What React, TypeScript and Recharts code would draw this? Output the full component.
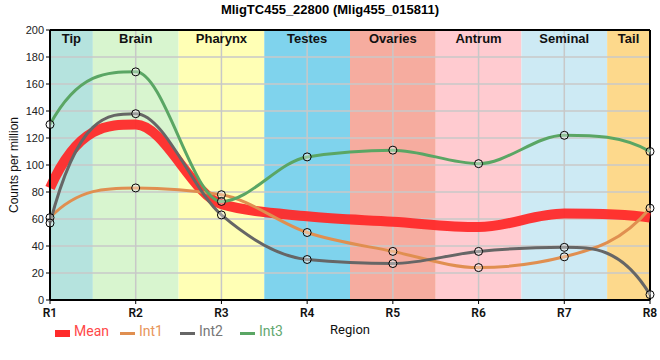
import React from "react";
import {
  ComposedChart,
  Line,
  XAxis,
  YAxis,
  ReferenceArea,
  ReferenceLine,
} from "recharts";

const categories = ["R1", "R2", "R3", "R4", "R5", "R6", "R7", "R8"];
const int1 = [61, 83, 78, 50, 36, 24, 32, 68];
const int2 = [57, 138, 63, 30, 27, 36, 39, 4];
const int3 = [130, 169, 73, 106, 111, 101, 122, 110];
const meanVals = [83, 130, 71, 62, 58, 54, 64, 61];
const yTicks = [0, 20, 40, 60, 80, 100, 120, 140, 160, 180, 200];
const xTicks = [1, 2, 3, 4, 5, 6, 7, 8];

const regions = ["Tip", "Brain", "Pharynx", "Testes", "Ovaries", "Antrum", "Seminal", "Tail"];
const regionStart = [1, 1.5, 2.5, 3.5, 4.5, 5.5, 6.5, 7.5];
const regionEnd = [1.5, 2.5, 3.5, 4.5, 5.5, 6.5, 7.5, 8];
const regionColors = ["#b5e3de", "#d8f5cf", "#ffffb5", "#7fd3ed", "#f6ac9f", "#ffcbd0", "#cdeaf4", "#fdd98c"];

const data = categories.map((c, i) => ({
  x: i + 1,
  name: c,
  mean: meanVals[i],
  int1: int1[i],
  int2: int2[i],
  int3: int3[i],
}));

const COLORS = { mean: "#ff2a2a", int1: "#e08f50", int2: "#666666", int3: "#5aa664" };

const dot = { r: 4, stroke: "#000", strokeWidth: 1, fill: "#ffffff", fillOpacity: 0.35 };

// Monotone cubic Hermite curve with steeper end tangents
function sign(v: number) {
  return v < 0 ? -1 : 1;
}
function smoothCurve(context: any) {
  let xs: number[] = [];
  let ys: number[] = [];
  return {
    areaStart() {},
    areaEnd() {},
    lineStart() {
      xs = [];
      ys = [];
    },
    point(x: number, y: number) {
      xs.push(+x);
      ys.push(+y);
    },
    lineEnd() {
      const n = xs.length;
      if (n === 0) return;
      context.moveTo(xs[0], ys[0]);
      if (n === 1) return;
      if (n === 2) {
        context.lineTo(xs[1], ys[1]);
        return;
      }
      const s: number[] = [];
      const h: number[] = [];
      for (let i = 0; i < n - 1; i++) {
        h.push(xs[i + 1] - xs[i]);
        s.push((ys[i + 1] - ys[i]) / (xs[i + 1] - xs[i]));
      }
      const m: number[] = new Array(n).fill(0);
      for (let i = 1; i < n - 1; i++) {
        const s0 = s[i - 1];
        const s1 = s[i];
        const p = (s0 * h[i] + s1 * h[i - 1]) / (h[i - 1] + h[i]);
        m[i] = (sign(s0) + sign(s1)) * Math.min(Math.abs(s0), Math.abs(s1), 0.5 * Math.abs(p)) || 0;
      }
      const endSlope = (sec: number, inner: number) => {
        let v = 3 * sec - 2 * inner;
        if (sign(v) !== sign(sec) || sec === 0) v = 0;
        if (Math.abs(v) > 3 * Math.abs(sec)) v = 3 * sec;
        return v;
      };
      m[0] = endSlope(s[0], m[1]);
      m[n - 1] = endSlope(s[n - 2], m[n - 2]);
      for (let i = 0; i < n - 1; i++) {
        const dx = h[i] / 3;
        context.bezierCurveTo(
          xs[i] + dx,
          ys[i] + dx * m[i],
          xs[i + 1] - dx,
          ys[i + 1] - dx * m[i + 1],
          xs[i + 1],
          ys[i + 1]
        );
      }
    },
  };
}

export default function App() {
  return (
    <div style={{ position: "absolute", left: 0, top: 0, width: 660, height: 360, fontFamily: "Roboto, sans-serif" }}>
      <div
        style={{
          position: "absolute",
          left: 0,
          top: 2,
          width: 660,
          textAlign: "center",
          fontFamily: "'Liberation Sans', Arial, sans-serif",
          fontWeight: "bold",
          fontSize: 13,
        }}
      >
        MligTC455_22800 (Mlig455_015811)
      </div>
      <ComposedChart width={660} height={360} data={data} margin={{ top: 30, right: 10, left: 0, bottom: 0 }}>
        {regions.map((r, i) => (
          <ReferenceArea
            key={r}
            x1={regionStart[i]}
            x2={regionEnd[i]}
            y1={0}
            y2={200}
            fill={regionColors[i]}
            fillOpacity={1}
            stroke="none"
            ifOverflow="visible"
            label={{
              value: r,
              position: "insideTop",
              offset: 4,
              fill: "#111",
              fontSize: 13,
              fontWeight: "bold",
              fontFamily: "'Liberation Sans', Arial, sans-serif",
            }}
          />
        ))}
        {yTicks.slice(1, -1).map((t) => (
          <ReferenceLine key={"gy" + t} y={t} stroke="#c8c8c8" strokeWidth={1.5} />
        ))}
        {xTicks.slice(1, -1).map((t) => (
          <ReferenceLine key={"gx" + t} x={t} stroke="#c8c8c8" strokeWidth={1.5} />
        ))}
        <XAxis
          dataKey="x"
          type="number"
          domain={[1, 8]}
          ticks={xTicks}
          tickFormatter={(v: number) => categories[v - 1]}
          height={60}
          axisLine={{ stroke: "#000", strokeWidth: 2 }}
          tickLine={{ stroke: "#000" }}
          tickSize={4}
          tick={{ fill: "#111", fontSize: 12, fontWeight: 600, fontFamily: "Roboto, sans-serif", dy: 2 }}
          label={{ value: "Region", position: "insideTop", offset: 25, fill: "#111", fontSize: 13, fontFamily: "Roboto, sans-serif" }}
        />
        <YAxis
          type="number"
          domain={[0, 200]}
          ticks={yTicks}
          width={50}
          interval={0}
          axisLine={{ stroke: "#000", strokeWidth: 2 }}
          tickLine={{ stroke: "#000" }}
          tickSize={4}
          tick={{ fill: "#222", fontSize: 11, fontFamily: "'Liberation Sans', Arial, sans-serif" }}
          label={{
            value: "Counts per million",
            angle: -90,
            position: "insideLeft",
            offset: 14,
            style: { textAnchor: "middle" },
            fill: "#111",
            fontSize: 12,
            fontFamily: "'Liberation Sans', Arial, sans-serif",
          }}
        />
        <ReferenceLine y={200} stroke="#000" strokeWidth={2} ifOverflow="visible" />
        <ReferenceLine x={8} stroke="#000" strokeWidth={2} ifOverflow="visible" />
        <Line type={smoothCurve as any} dataKey="mean" stroke={COLORS.mean} strokeWidth={10} strokeOpacity={0.95} dot={false} activeDot={false} isAnimationActive={false} />
        <Line type={smoothCurve as any} dataKey="int1" stroke={COLORS.int1} strokeWidth={3} dot={dot} activeDot={false} isAnimationActive={false} />
        <Line type={smoothCurve as any} dataKey="int2" stroke={COLORS.int2} strokeWidth={3} dot={dot} activeDot={false} isAnimationActive={false} />
        <Line type={smoothCurve as any} dataKey="int3" stroke={COLORS.int3} strokeWidth={3} dot={dot} activeDot={false} isAnimationActive={false} />
      </ComposedChart>
      <div style={{ position: "absolute", left: 0, top: 323, width: 660, height: 20, fontSize: 14, fontFamily: "Roboto, sans-serif" }}>
        <div style={{ position: "absolute", left: 55, top: 7, width: 15, height: 7, background: COLORS.mean }} />
        <div style={{ position: "absolute", left: 74, top: 0, color: "#ff4848" }}>Mean</div>
        <div style={{ position: "absolute", left: 120, top: 9, width: 15, height: 3, background: COLORS.int1 }} />
        <div style={{ position: "absolute", left: 139, top: 0, color: "#e8965a" }}>Int1</div>
        <div style={{ position: "absolute", left: 180, top: 9, width: 15, height: 3, background: COLORS.int2 }} />
        <div style={{ position: "absolute", left: 199, top: 0, color: "#777777" }}>Int2</div>
        <div style={{ position: "absolute", left: 240, top: 9, width: 15, height: 3, background: COLORS.int3 }} />
        <div style={{ position: "absolute", left: 259, top: 0, color: "#64a870" }}>Int3</div>
      </div>
    </div>
  );
}
